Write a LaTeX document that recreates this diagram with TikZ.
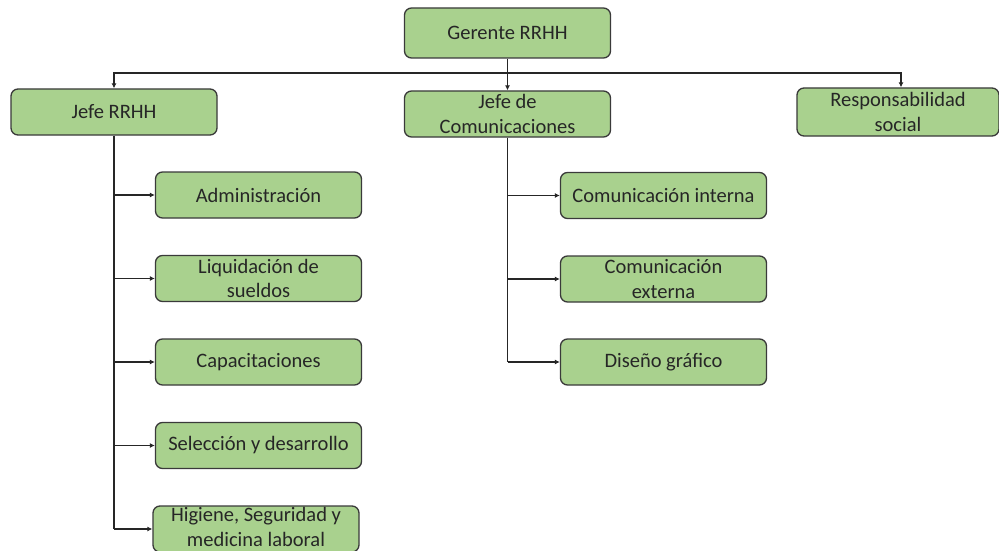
\documentclass[tikz,border=0pt]{standalone}
\usepackage{fontspec}
\setmainfont{Carlito}
\usetikzlibrary{arrows.meta}
\definecolor{boxfill}{HTML}{A9D18E}
\definecolor{boxline}{HTML}{3A3A3A}
\definecolor{inkline}{HTML}{262626}
\begin{document}
\begin{tikzpicture}[x=1pt,y=-1pt,
  orgbox/.style={draw=boxline, fill=boxfill, line width=1.3pt, rounded corners=7pt,
    minimum width=206pt, minimum height=46pt, align=center, inner sep=0pt,
    font=\fontsize{20.5}{24.5}\selectfont, text=inkline},
  trunk/.style={draw=inkline, line width=1.1pt},
  link/.style={trunk, -{Latex[length=5pt,width=5pt]}}]
\clip (0,0) rectangle (999,551);
\fill[white] (0,0) rectangle (999,551);

% top level
\node[orgbox, minimum height=50pt] (ger) at (507.5,33) {Gerente RRHH};

% second level
\node[orgbox] (jr) at (114,112) {Jefe RRHH};
\node[orgbox] (jc) at (507.5,114) {Jefe de\\Comunicaciones};
\node[orgbox, minimum width=202pt, minimum height=48pt] (rs) at (898,112) {Responsabilidad\\social};

% human resources units
\node[orgbox] (adm) at (258.5,195) {Administración};
\node[orgbox] (liq) at (258.5,278.5) {Liquidación de\\sueldos};
\node[orgbox] (cap) at (258.5,362) {Capacitaciones};
\node[orgbox] (sel) at (258.5,445.5) {Selección y desarrollo};
% text sits a little high in this box
\node[orgbox, text depth=4.5pt] (hig) at (256,529) {Higiene, Seguridad y\\medicina laboral};

% communication units
\node[orgbox] (cin) at (663.5,195.5) {Comunicación interna};
\node[orgbox] (cex) at (663.5,279) {Comunicación\\externa};
\node[orgbox] (dis) at (663.5,362) {Diseño gráfico};

% distribution bus below the manager
\coordinate (bus) at (507.5,73);
\draw[trunk] (ger.south) -- (bus);
\draw[link] (bus) -- (jc.north);
\draw[link] (bus) -| (jr.north);
\draw[link] (bus) -| ([xshift=3pt]rs.north);

% human resources column
\draw[trunk] (jr.south) -- (jr.south |- hig.west);
\foreach \u in {adm,liq,cap,sel,hig}
  \draw[link] (jr.south |- \u.west) -- (\u.west);

% communication column
\draw[trunk] (jc.south) -- (jc.south |- dis.west);
\foreach \u in {cin,cex,dis}
  \draw[link] (jc.south |- \u.west) -- (\u.west);
\end{tikzpicture}
\end{document}
